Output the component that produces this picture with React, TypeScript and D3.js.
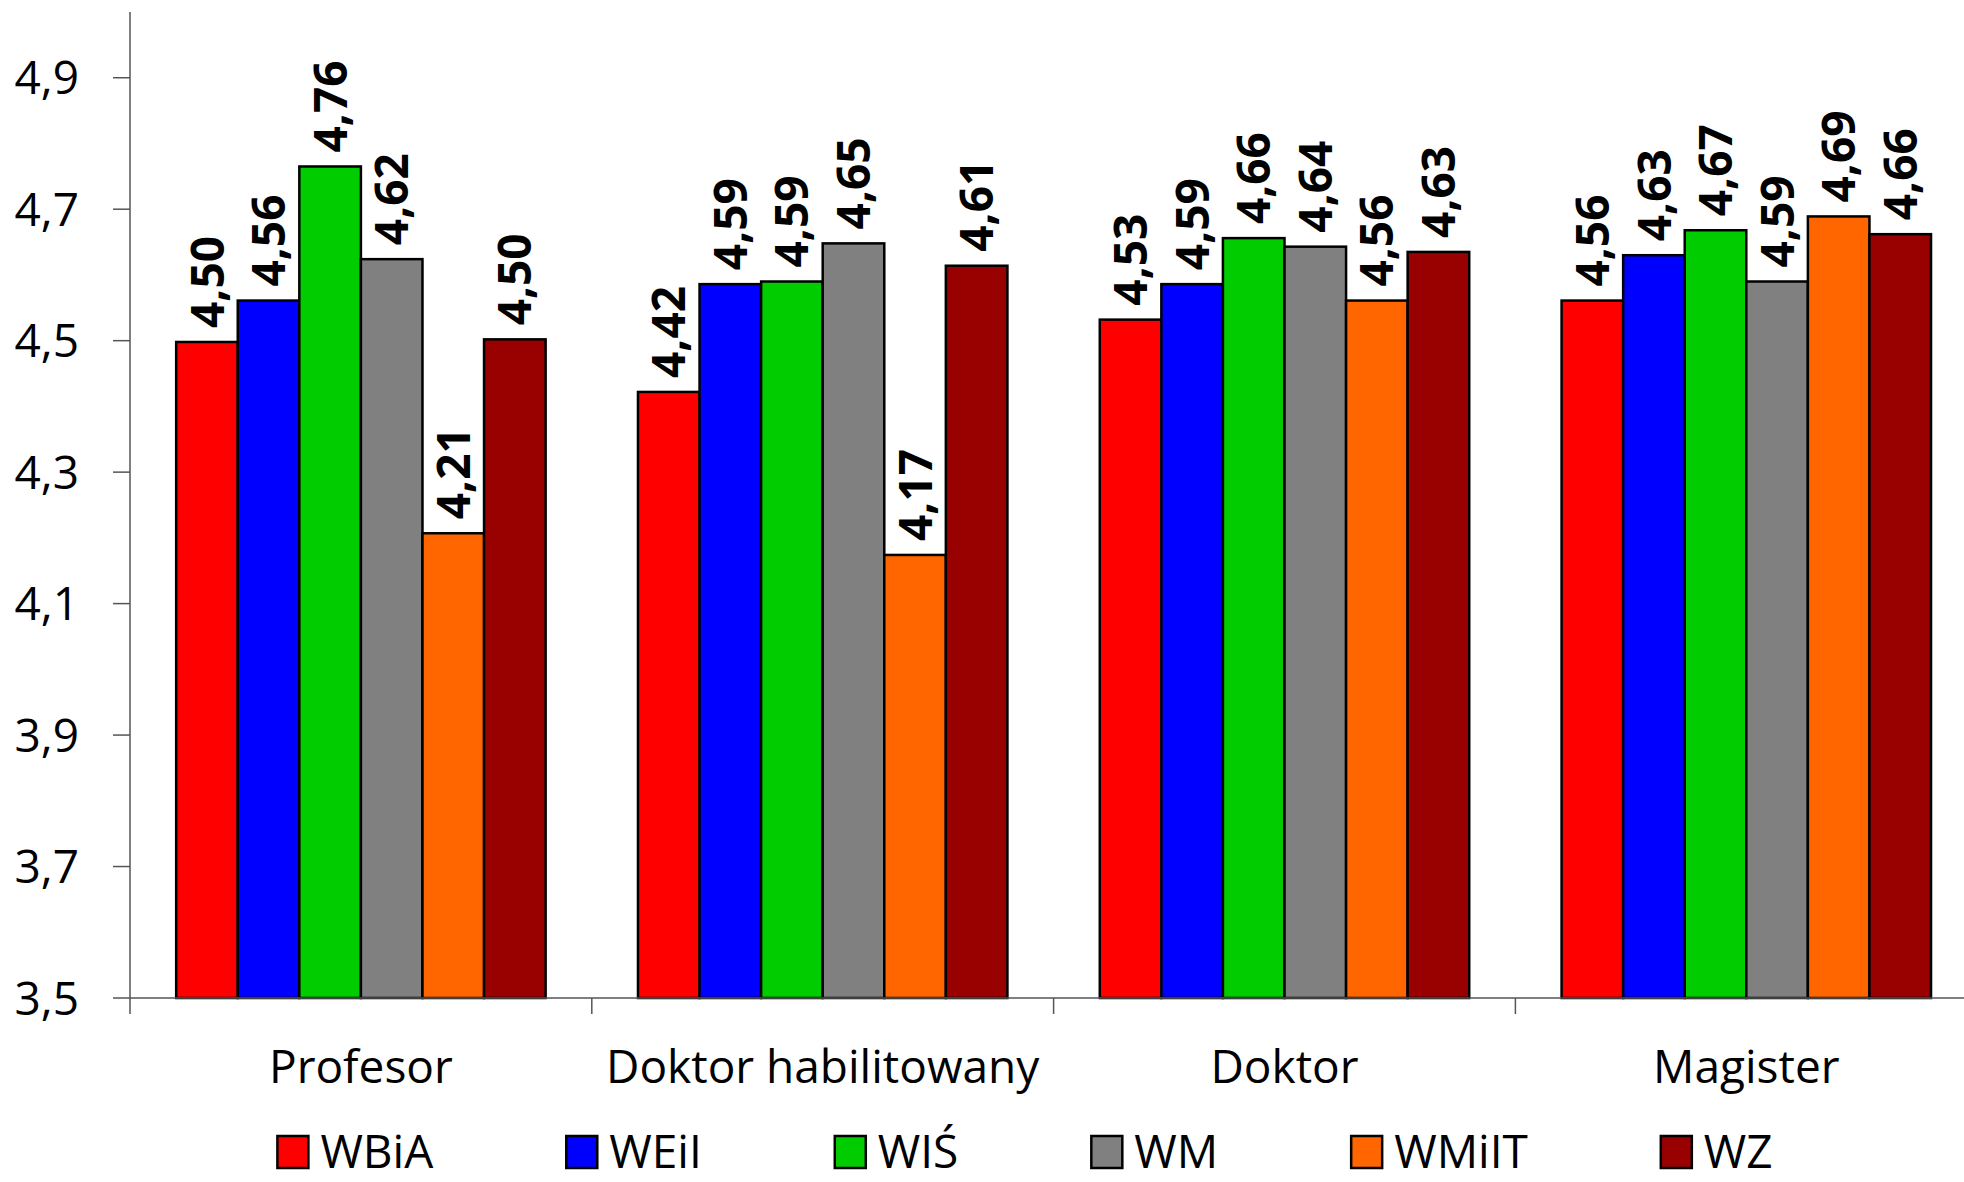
import React from "react";
import * as d3 from "d3";

const categories = ["Profesor", "Doktor habilitowany", "Doktor", "Magister"];
const seriesNames = ["WBiA", "WEiI", "WIŚ", "WM", "WMiIT", "WZ"];
const seriesColors = ["#FF0000", "#0000FF", "#00CC00", "#808080", "#FF6600", "#990000"];
// values per series, one per category
const WBiA = [4.498, 4.422, 4.532, 4.561];
const WEiI = [4.561, 4.586, 4.586, 4.630];
const WIS = [4.765, 4.590, 4.656, 4.668];
const WM = [4.624, 4.648, 4.643, 4.590];
const WMiIT = [4.207, 4.174, 4.561, 4.689];
const WZ = [4.502, 4.614, 4.635, 4.662];
const yTicks = [3.5, 3.7, 3.9, 4.1, 4.3, 4.5, 4.7, 4.9];

const seriesValues = [WBiA, WEiI, WIS, WM, WMiIT, WZ];

const W = 1964;
const H = 1182;
const FONT = "'Open Sans', 'DejaVu Sans', sans-serif";

function measure(text: string, size: number): number {
  if (typeof document === "undefined") return text.length * size * 0.6;
  const c = document.createElement("canvas");
  const ctx = c.getContext("2d");
  if (!ctx) return text.length * size * 0.6;
  ctx.font = `${size}px 'Open Sans'`;
  return ctx.measureText(text).width;
}

export default function App() {
  const left = 130;
  const bandW = 461.8;
  const top = 12;
  const bottom = 998;

  const x = d3.scaleBand<string>().domain(categories).range([left, left + bandW * categories.length]).padding(0);
  const inner = d3
    .scaleBand<string>()
    .domain(seriesNames)
    .range([x.bandwidth() * 0.1, x.bandwidth() * 0.9])
    .padding(0);
  const y = d3.scaleLinear().domain([3.5, 5.0]).range([bottom, top]);

  const fmt = (v: number) => v.toFixed(2).replace(".", ",");
  const fmtTick = (v: number) => v.toFixed(1).replace(".", ",");

  // legend layout: square, gap, text, then fixed gap to next item; centered
  const legendFont = 46;
  const sq = 31;
  const textOff = 43;
  const itemGap = 133;
  const widths = seriesNames.map((s) => measure(s, legendFont));
  const itemW = widths.map((w) => textOff + w);
  const totalW = d3.sum(itemW) + itemGap * (seriesNames.length - 1);
  const legendCenter = 1025;
  const legendX: number[] = [];
  let acc = legendCenter - totalW / 2;
  itemW.forEach((w) => {
    legendX.push(acc);
    acc += w + itemGap;
  });
  const legendBaseline = 1168;

  return (
    <div style={{ position: "absolute", left: 0, top: 0, width: W, height: H, background: "#fff" }}>
      <svg width={W} height={H} style={{ display: "block" }} fontFamily={FONT}>
        <rect x={0} y={0} width={W} height={H} fill="#fff" />
        {/* bars */}
        {categories.map((c, ci) => (
          <g key={c} transform={`translate(${x(c)},0)`}>
            {seriesNames.map((s, si) => {
              const v = seriesValues[si][ci];
              const bx = inner(s)!;
              const bw = inner.bandwidth();
              return (
                <g key={s}>
                  <rect
                    x={bx}
                    y={y(v)}
                    width={bw}
                    height={y(3.5) - y(v)}
                    fill={seriesColors[si]}
                    stroke="#000"
                    strokeWidth={2.5}
                  />
                  <text
                    transform={`translate(${bx + bw / 2},${y(v) - 14}) rotate(-90)`}
                    dy="0.36em"
                    textAnchor="start"
                    fontSize={46}
                    fontWeight="bold"
                    fill="#000"
                  >
                    {fmt(v)}
                  </text>
                </g>
              );
            })}
          </g>
        ))}
        {/* y axis */}
        <line x1={left} x2={left} y1={top} y2={bottom + 16} stroke="#555" strokeWidth={1.5} />
        {yTicks.map((t) => (
          <g key={t}>
            <line x1={left - 17} x2={left} y1={y(t)} y2={y(t)} stroke="#555" strokeWidth={1.5} />
            <text x={79} y={y(t)} dy="0.36em" textAnchor="end" fontSize={46} fill="#000">
              {fmtTick(t)}
            </text>
          </g>
        ))}
        {/* x axis */}
        <line x1={left} x2={W} y1={bottom} y2={bottom} stroke="#555" strokeWidth={1.5} />
        {categories.map((c) => (
          <g key={c}>
            <line x1={x(c)! + x.bandwidth()} x2={x(c)! + x.bandwidth()} y1={bottom} y2={bottom + 16} stroke="#555" strokeWidth={1.5} />
            <text x={x(c)! + x.bandwidth() / 2} y={1083} textAnchor="middle" fontSize={46} fill="#000">
              {c}
            </text>
          </g>
        ))}
        {/* legend */}
        {seriesNames.map((s, si) => (
          <g key={s} transform={`translate(${legendX[si]},0)`}>
            <rect x={0} y={legendBaseline - 32} width={sq} height={32} fill={seriesColors[si]} stroke="#000" strokeWidth={2.5} />
            <text x={textOff} y={legendBaseline} fontSize={legendFont} fill="#000">
              {s}
            </text>
          </g>
        ))}
      </svg>
    </div>
  );
}
